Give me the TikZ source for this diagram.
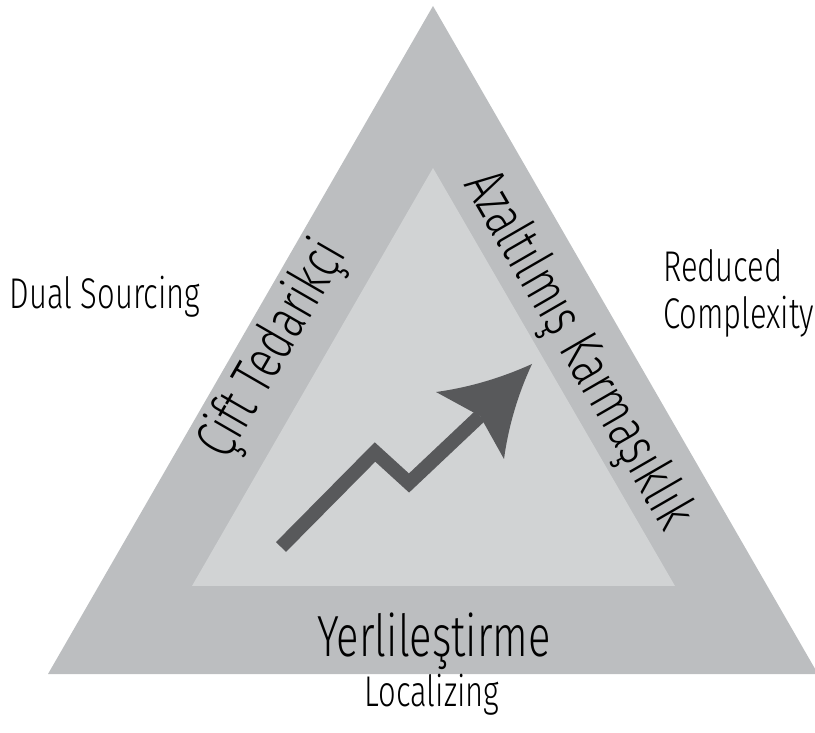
\documentclass[tikz,border=0pt]{standalone}
\usepackage{fontspec}
\setmainfont{Fira Sans}[UprightFont=* Light,FakeStretch=0.72]
\usepackage{xcolor}
\usepackage{tikz}
\usetikzlibrary{positioning,calc}

\definecolor{outergray}{HTML}{BCBEC0}
\definecolor{innergray}{HTML}{D1D3D4}
\definecolor{arrowgray}{HTML}{58595B}

\begin{document}
\begin{tikzpicture}[
    x=1pt,y=1pt,
    biglabel/.style={inner sep=0pt,font=\fontsize{58}{64}\selectfont},
    smalllabel/.style={inner sep=0pt,font=\fontsize{43}{47}\selectfont,align=left},
    shaft/.style={draw=arrowgray,line width=14pt,miter limit=10},
]
\useasboundingbox (0,0) rectangle (815,732);

% ---- triangles ----
\coordinate (oa) at (433,726);
\coordinate (ol) at (48,58);
\coordinate (or) at (818,58);
\coordinate (ia) at (433,564);
\coordinate (il) at (192,146);
\coordinate (ir) at (675,146);
\fill[outergray] (ol) -- (or) -- (oa) -- cycle;
\fill[innergray] (il) -- (ir) -- (ia) -- cycle;

% ---- rising arrow ----
\coordinate (s0) at (281,185);
\coordinate (s1) at (375,280);
\coordinate (s2) at (409,249);
\coordinate (nb) at (480,316);
\coordinate (tip) at (532,368);
\coordinate (bl) at (436,340);
\coordinate (br) at (504,273);
\draw[shaft] (s0) -- (s1) -- (s2) -- (nb);
\fill[arrowgray] (tip) .. controls (501,354) and (469,344.5) .. (bl)
   -- (nb) -- (br) .. controls (508.5,306) and (518,338) .. (tip) -- cycle;

% ---- band labels ----
\node[biglabel,rotate=60] (dual) at (274,382) {Çift Tedarikçi};
\node[biglabel,rotate=-60] (reduce) at (577,381) {Azaltılmış Karmaşıklık};
\node[biglabel,anchor=base] (local) at (434,75) {Yerlileştirme};

% ---- english labels ----
\node[smalllabel,anchor=base] (dualen) at (105,423) {Dual Sourcing};
\node[smalllabel,anchor=base west] (reduceen) at (663,403) {Reduced\\Complexity};
\node[smalllabel,anchor=base] (localen) at (432,26) {Localizing};
\end{tikzpicture}
\end{document}
